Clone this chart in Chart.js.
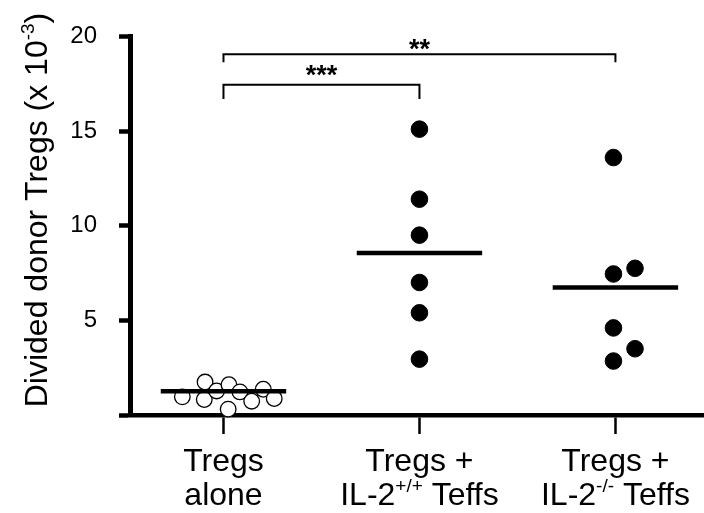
<!DOCTYPE html>
<html><head><meta charset="utf-8">
<script src="https://cdn.jsdelivr.net/npm/chart.js@4.4.1/dist/chart.umd.min.js"></script>
<style>html,body{margin:0;padding:0;background:#fff;} #wrap{width:704px;height:513px;}</style>
</head><body><div id="wrap"><canvas id="c" width="704" height="513"></canvas></div>
<script>
// ---- data ----
const categories = ['Tregs alone', 'Tregs + IL-2+/+ Teffs', 'Tregs + IL-2-/- Teffs'];
const categoryPositions = [1, 2, 3];
const xLabelLine1 = ['Tregs', 'Tregs +', 'Tregs +'];
const xLabelLine2Main = ['alone', 'IL-2', 'IL-2'];
const xLabelLine2Sup = ['', '+/+', '-/-'];
const xLabelLine2Tail = ['', ' Teffs', ' Teffs'];

const alonePosX = [0.79, 0.906, 0.902, 0.965, 1.028, 1.024, 1.084, 1.144, 1.203, 1.259];
const aloneValues = [0.96, 1.74, 0.82, 1.27, 1.60, 0.31, 1.22, 0.73, 1.36, 0.87];
const wtPosX = [2, 2, 2, 2, 2, 2];
const wtValues = [15.1, 11.4, 9.5, 7.0, 5.4, 2.95];
const koPosX = [2.99, 3.10, 2.99, 2.99, 3.10, 2.99];
const koValues = [13.6, 7.75, 7.45, 4.6, 3.5, 2.85];
const meanValues = [1.25, 8.56, 6.74];

const yTicks = [0, 5, 10, 15, 20];
const yTickLabels = ['', '5', '10', '15', '20'];
const yTitleMain = 'Divided donor Tregs (x 10';
const yTitleSup = '-3';
const yTitleTail = ')';

const comparisonFrom = [1, 1];
const comparisonTo = [2, 3];
const comparisonLabels = ['***', '**'];
const comparisonLevels = [17.44, 19.06];
const comparisonDrops = [0.75, 0.43];

// ---- build datasets ----
const FONT = "'Liberation Sans', Arial, Helvetica, sans-serif";
const toPts = (xs, ys) => ys.map((y, i) => ({x: xs[i], y: y}));
const HALF = 0.32;

const datasets = [];
meanValues.forEach((m, i) => {
  datasets.push({
    type: 'line', data: [{x: categoryPositions[i] - HALF, y: m}, {x: categoryPositions[i] + HALF, y: m}],
    borderColor: '#000', borderWidth: 4.5, pointRadius: 0, showLine: true, order: 0, clip: false
  });
});
comparisonLabels.forEach((lab, i) => {
  const f = comparisonFrom[i], t = comparisonTo[i], l = comparisonLevels[i], d = comparisonDrops[i];
  datasets.push({
    type: 'line', data: [{x: f, y: l - d}, {x: f, y: l}, {x: t, y: l}, {x: t, y: l - d}],
    borderColor: '#000', borderWidth: 2, pointRadius: 0, showLine: true, order: 0, clip: false,
    borderCapStyle: 'butt', borderJoinStyle: 'miter'
  });
});
datasets.push({
  type: 'scatter', label: categories[0], data: toPts(alonePosX, aloneValues),
  pointRadius: 7.8, pointBackgroundColor: '#fff', pointBorderColor: '#000', pointBorderWidth: 1.3, order: 1, clip: false
});
datasets.push({
  type: 'scatter', label: categories[1], data: toPts(wtPosX, wtValues),
  pointRadius: 8.3, pointBackgroundColor: '#000', pointBorderColor: '#000', pointBorderWidth: 1, order: 1, clip: false
});
datasets.push({
  type: 'scatter', label: categories[2], data: toPts(koPosX, koValues),
  pointRadius: 8.3, pointBackgroundColor: '#000', pointBorderColor: '#000', pointBorderWidth: 1, order: 1, clip: false
});

function drawSupText(ctx, parts, x, y, size, supSize, raise) {
  ctx.font = size + 'px ' + FONT;
  const w1 = ctx.measureText(parts[0]).width;
  ctx.fillText(parts[0], x, y);
  ctx.font = supSize + 'px ' + FONT;
  const w2 = parts[1] ? ctx.measureText(parts[1]).width : 0;
  if (parts[1]) ctx.fillText(parts[1], x + w1, y - raise);
  ctx.font = size + 'px ' + FONT;
  if (parts[2]) ctx.fillText(parts[2], x + w1 + w2, y);
}
function supWidth(ctx, parts, size, supSize) {
  ctx.font = size + 'px ' + FONT;
  let w = ctx.measureText(parts[0]).width + (parts[2] ? ctx.measureText(parts[2]).width : 0);
  ctx.font = supSize + 'px ' + FONT;
  if (parts[1]) w += ctx.measureText(parts[1]).width;
  return w;
}

const textPlugin = {
  id: 'texts',
  afterDraw(chart) {
    const ctx = chart.ctx, xs = chart.scales.x, ys = chart.scales.y;
    ctx.save();
    ctx.fillStyle = '#000';
    ctx.textAlign = 'left';
    ctx.textBaseline = 'alphabetic';
    // x category labels
    categoryPositions.forEach((p, i) => {
      const cx = xs.getPixelForValue(p);
      ctx.font = '32px ' + FONT;
      const w1 = ctx.measureText(xLabelLine1[i]).width;
      ctx.fillText(xLabelLine1[i], cx - w1 / 2, 471);
      const parts = [xLabelLine2Main[i], xLabelLine2Sup[i], xLabelLine2Tail[i]];
      const w = supWidth(ctx, parts, 32, 19);
      drawSupText(ctx, parts, cx - w / 2, 505, 32, 19, 13);
    });
    // y title
    ctx.save();
    ctx.translate(47, 210);
    ctx.rotate(-Math.PI / 2);
    const tparts = [yTitleMain, yTitleSup, yTitleTail];
    const tw = supWidth(ctx, tparts, 32, 19);
    drawSupText(ctx, tparts, -tw / 2, 0, 32, 19, 13);
    ctx.restore();
    // significance stars
    ctx.font = 'bold 27px ' + FONT;
    comparisonLabels.forEach((lab, i) => {
      const cx = (xs.getPixelForValue(comparisonFrom[i]) + xs.getPixelForValue(comparisonTo[i])) / 2;
      const by = ys.getPixelForValue(comparisonLevels[i]);
      const m = ctx.measureText(lab);
      const target = by - (i === 0 ? 14 : 10);
      const y = target - (m.actualBoundingBoxDescent - m.actualBoundingBoxAscent) / 2;
      ctx.fillText(lab, cx - m.width / 2, y);
    });
    ctx.restore();
  }
};

new Chart(document.getElementById('c'), {
  type: 'scatter',
  data: { datasets },
  options: {
    responsive: false,
    animation: false,
    layout: { autoPadding: false, padding: { top: 32, left: 0, right: 0, bottom: 0 } },
    plugins: { legend: { display: false }, tooltip: { enabled: false } },
    scales: {
      x: {
        type: 'linear', min: 0.523, max: 3.452,
        afterBuildTicks: s => { s.ticks = categoryPositions.map(v => ({value: v})); },
        afterFit: s => { s.height = 98; },
        ticks: { display: false },
        grid: { drawOnChartArea: false, drawTicks: true, tickLength: 19, tickWidth: 2.5, tickColor: '#000' },
        border: { display: true, width: 4.5, color: '#000' }
      },
      y: {
        type: 'linear', min: 0, max: 20,
        afterBuildTicks: s => { s.ticks = yTicks.map(v => ({value: v})); },
        afterFit: s => { s.width = 130; },
        ticks: {
          padding: 22, color: '#000', font: { size: 24, family: FONT },
          callback: (v) => yTickLabels[yTicks.indexOf(v)]
        },
        grid: { drawOnChartArea: false, drawTicks: true, tickLength: 11, tickWidth: 4.5, tickColor: '#000' },
        border: { display: true, width: 5, color: '#000' }
      }
    }
  },
  plugins: [textPlugin]
});
</script>
</body></html>
